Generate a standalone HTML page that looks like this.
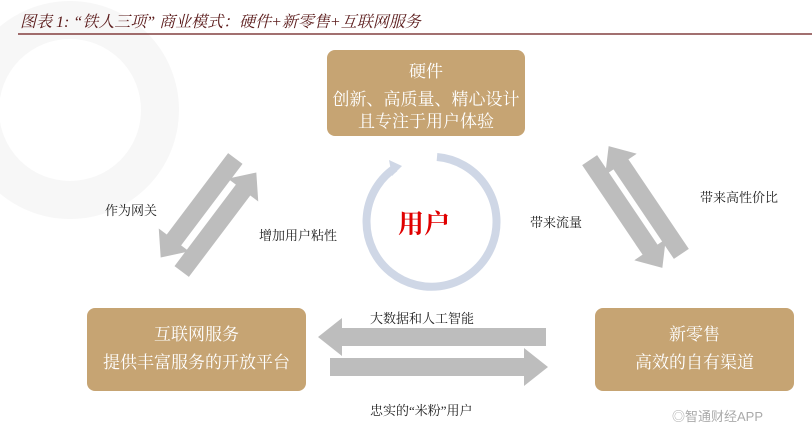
<!DOCTYPE html>
<html><head><meta charset="utf-8"><style>
body{margin:0;width:812px;height:435px;background:#fff;overflow:hidden;position:relative;font-family:"Liberation Serif","Noto Serif CJK SC",serif}
.t{position:absolute;white-space:nowrap;font-size:13px;color:#222}
.box{position:absolute;background:#c6a473;border-radius:8px;color:#fff;text-align:center;font-size:17px;line-height:22px}
</style></head><body>
<svg width="812" height="435" style="position:absolute;left:0;top:0">
<circle cx="70" cy="110" r="90" fill="none" stroke="#f7f7f7" stroke-width="38"/>
<line x1="18" y1="34" x2="812" y2="34" stroke="#6b1a1a" stroke-width="1.2"/>
<path d="M 395 168 A 65 65 0 1 0 437 157" fill="none" stroke="#cfd7e6" stroke-width="8"/>
<polygon points="389,160 402,166 392,176" fill="#cfd7e6"/>
<g fill="#bdbdbd">
<g transform="translate(198,208) rotate(127)"><polygon points="-62,-9 40,-9 40,-19 62,0 40,19 40,9 -62,9"/></g>
<g transform="translate(219,222) rotate(-53)"><polygon points="-62,-9 40,-9 40,-19 62,0 40,19 40,9 -62,9"/></g>
<g transform="translate(645,200) rotate(236)"><polygon points="-65,-9 43,-9 43,-19 65,0 43,19 43,9 -65,9"/></g>
<g transform="translate(626,214) rotate(56)"><polygon points="-65,-9 43,-9 43,-19 65,0 43,19 43,9 -65,9"/></g>
<polygon points="546,328 342,328 342,318 318,337 342,356 342,346 546,346"/>
<polygon points="330,358 524,358 524,348 548,367 524,386 524,376 330,376"/>
</g>
</svg>
<div class="t" style="left:20px;top:9px;font-size:16px;font-style:italic;color:#5a1a1a">图表 1: “铁人三项” 商业模式：硬件+新零售+互联网服务</div>
<div class="box" style="left:327px;top:50px;width:198px;height:86px"><div style="margin-top:11px">硬件</div><div style="margin-top:6px">创新、高质量、精心设计</div><div>且专注于用户体验</div></div>
<div class="box" style="left:87px;top:308px;width:219px;height:83px"><div style="margin-top:16px">互联网服务</div><div style="margin-top:6px">提供丰富服务的开放平台</div></div>
<div class="box" style="left:595px;top:308px;width:199px;height:83px"><div style="margin-top:16px">新零售</div><div style="margin-top:6px">高效的自有渠道</div></div>
<div class="t" style="left:398px;top:204px;font-size:26px;font-weight:bold;color:#e00000">用户</div>
<div class="t" style="left:105px;top:200px">作为网关</div>
<div class="t" style="left:259px;top:225px">增加用户粘性</div>
<div class="t" style="left:530px;top:212px">带来流量</div>
<div class="t" style="left:700px;top:187px">带来高性价比</div>
<div class="t" style="left:370px;top:308px">大数据和人工智能</div>
<div class="t" style="left:370px;top:400px">忠实的“米粉”用户</div>
<div class="t" style="left:672px;top:406px;color:#aaa;font-family:'Liberation Sans','Noto Sans CJK SC',sans-serif">◎智通财经APP</div>
</body></html>
